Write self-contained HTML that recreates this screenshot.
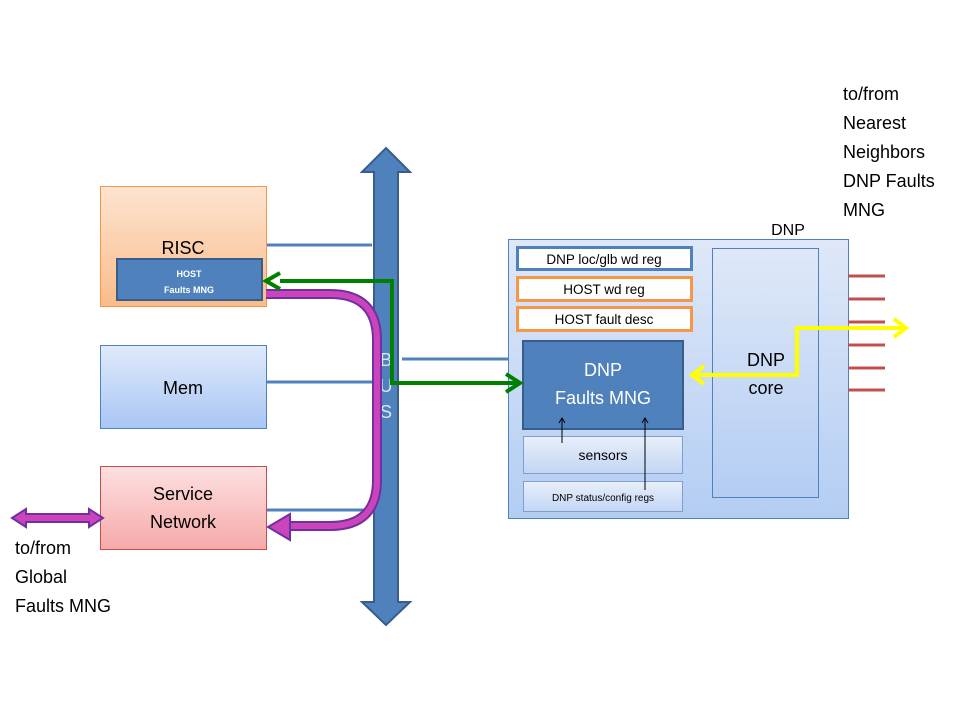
<!DOCTYPE html>
<html><head><meta charset="utf-8"><style>
html,body{margin:0;padding:0;background:#fff}
svg{display:block}
text{font-family:"Liberation Sans",sans-serif}
</style></head><body>
<svg width="960" height="720" viewBox="0 0 960 720" xmlns="http://www.w3.org/2000/svg">
<defs>
<linearGradient id="gO" x1="0" y1="0" x2="0" y2="1"><stop offset="0" stop-color="#fde4d0"/><stop offset="1" stop-color="#fbbb8a"/></linearGradient>
<linearGradient id="gB" x1="0" y1="0" x2="0" y2="1"><stop offset="0" stop-color="#e0eafa"/><stop offset="1" stop-color="#a9c6f5"/></linearGradient>
<linearGradient id="gR" x1="0" y1="0" x2="0" y2="1"><stop offset="0" stop-color="#fde0e0"/><stop offset="1" stop-color="#f6a9a9"/></linearGradient>
<linearGradient id="gD" x1="0" y1="0" x2="0" y2="1"><stop offset="0" stop-color="#dfe8f8"/><stop offset="1" stop-color="#b3cdf3"/></linearGradient>
<linearGradient id="gS" x1="0" y1="0" x2="0" y2="1"><stop offset="0" stop-color="#e8effa"/><stop offset="1" stop-color="#c2d6f4"/></linearGradient>
</defs>
<g stroke="#4f81bd" stroke-width="3">
<line x1="266" y1="245" x2="372" y2="245"/>
<line x1="266" y1="382" x2="372" y2="382"/>
<line x1="266" y1="510" x2="372" y2="510"/>
<line x1="402" y1="359" x2="510" y2="359"/>
</g>
<rect x="100.5" y="186.5" width="166" height="120" fill="url(#gO)" stroke="#f79646" stroke-width="1"/>
<text x="183" y="254" font-size="18" text-anchor="middle" fill="#000">RISC</text>
<rect x="117" y="259" width="145" height="41" fill="#4f81bd" stroke="#385d8a" stroke-width="2"/>
<text x="189" y="277" font-size="9" font-weight="bold" text-anchor="middle" fill="#fff">HOST</text>
<text x="189" y="293" font-size="9" font-weight="bold" text-anchor="middle" fill="#fff">Faults MNG</text>
<rect x="100.5" y="345.5" width="166" height="83" fill="url(#gB)" stroke="#4f81bd" stroke-width="1"/>
<text x="183" y="394" font-size="18" text-anchor="middle" fill="#000">Mem</text>
<rect x="100.5" y="466.5" width="166" height="83" fill="url(#gR)" stroke="#c0504d" stroke-width="1"/>
<text x="183" y="500" font-size="18" text-anchor="middle" fill="#000">Service</text>
<text x="183" y="528" font-size="18" text-anchor="middle" fill="#000">Network</text>
<polygon points="386,148 410,172 398,172 398,602 410,602 386,625 362,602 374,602 374,172 362,172" fill="#4f81bd" stroke="#385d8a" stroke-width="2"/>
<text x="386" y="366" font-size="18" text-anchor="middle" fill="#dce6f2">B</text>
<text x="386" y="392" font-size="18" text-anchor="middle" fill="#dce6f2">U</text>
<text x="386" y="418" font-size="18" text-anchor="middle" fill="#dce6f2">S</text>
<path d="M266,294 L330,294 Q377,294 377,340 L377,480 Q377,526 330,526 L290,526" fill="none" stroke="#7030a0" stroke-width="10"/>
<path d="M266,294 L330,294 Q377,294 377,340 L377,480 Q377,526 330,526 L290,526" fill="none" stroke="#cc44bb" stroke-width="6"/>
<polygon points="268,527 290,514 290,540" fill="#cc44bb" stroke="#7030a0" stroke-width="2"/>
<text x="788" y="235" font-size="16" text-anchor="middle" fill="#000">DNP</text>
<rect x="508.5" y="239.5" width="340" height="279" fill="url(#gD)" stroke="#4f81bd" stroke-width="1"/>
<rect x="712.5" y="248.5" width="106" height="249" fill="url(#gD)" stroke="#4f81bd" stroke-width="1"/>
<text x="766" y="366" font-size="18" text-anchor="middle" fill="#000">DNP</text>
<text x="766" y="394" font-size="18" text-anchor="middle" fill="#000">core</text>
<rect x="517.5" y="247.5" width="174" height="22" fill="#fff" stroke="#4f81bd" stroke-width="3"/>
<text x="604" y="264" font-size="13.5" text-anchor="middle" fill="#000">DNP loc/glb wd reg</text>
<rect x="517.5" y="277.5" width="174" height="23" fill="#fff" stroke="#f79646" stroke-width="3"/>
<text x="604" y="294" font-size="13.5" text-anchor="middle" fill="#000">HOST wd reg</text>
<rect x="517.5" y="307.5" width="174" height="23" fill="#fff" stroke="#f79646" stroke-width="3"/>
<text x="604" y="324" font-size="13.5" text-anchor="middle" fill="#000">HOST fault desc</text>
<rect x="523" y="341" width="160" height="88" fill="#4f81bd" stroke="#385d8a" stroke-width="2"/>
<text x="603" y="376" font-size="18" text-anchor="middle" fill="#fff">DNP</text>
<text x="603" y="404" font-size="18" text-anchor="middle" fill="#fff">Faults MNG</text>
<rect x="523.5" y="436.5" width="159" height="37" fill="url(#gS)" stroke="#7f9fcf" stroke-width="1"/>
<text x="603" y="460" font-size="14" text-anchor="middle" fill="#000">sensors</text>
<rect x="523.5" y="481.5" width="159" height="30" fill="url(#gS)" stroke="#7f9fcf" stroke-width="1"/>
<text x="603" y="501" font-size="10" text-anchor="middle" fill="#000">DNP status/config regs</text>
<g stroke="#000" stroke-width="1" fill="none">
<line x1="562" y1="443" x2="562" y2="418"/><polyline points="559,423 562,418 565,423"/>
<line x1="645" y1="490" x2="645" y2="418"/><polyline points="642,423 645,418 648,423"/>
</g>
<g stroke="#c0504d" stroke-width="3">
<line x1="848" y1="276" x2="885" y2="276"/><line x1="848" y1="299" x2="885" y2="299"/>
<line x1="848" y1="322" x2="885" y2="322"/><line x1="848" y1="345" x2="885" y2="345"/>
<line x1="848" y1="368" x2="885" y2="368"/><line x1="848" y1="390" x2="885" y2="390"/>
</g>
<polyline points="280,281 392,281 392,383 516,383" fill="none" stroke="#008000" stroke-width="4"/>
<polyline points="280,273 266,281 280,289" fill="none" stroke="#008000" stroke-width="4"/>
<polyline points="506,374 520,383 506,392" fill="none" stroke="#008000" stroke-width="4"/>
<polyline points="694,375 797,375 797,328 902,328" fill="none" stroke="#ffff00" stroke-width="4"/>
<polyline points="704,366 692,375 704,384" fill="none" stroke="#ffff00" stroke-width="4"/>
<polyline points="894,319 906,328 894,337" fill="none" stroke="#ffff00" stroke-width="4"/>
<polygon points="12,518 26,509 26,514 89,514 89,509 103,518 89,527 89,522 26,522 26,527" fill="#cc44bb" stroke="#7030a0" stroke-width="2"/>
<g font-size="18" fill="#000">
<text x="15" y="554">to/from</text>
<text x="15" y="583">Global</text>
<text x="15" y="612">Faults MNG</text>
<text x="843" y="100">to/from</text>
<text x="843" y="129">Nearest</text>
<text x="843" y="158">Neighbors</text>
<text x="843" y="187">DNP Faults</text>
<text x="843" y="216">MNG</text>
</g>
</svg>
</body></html>
